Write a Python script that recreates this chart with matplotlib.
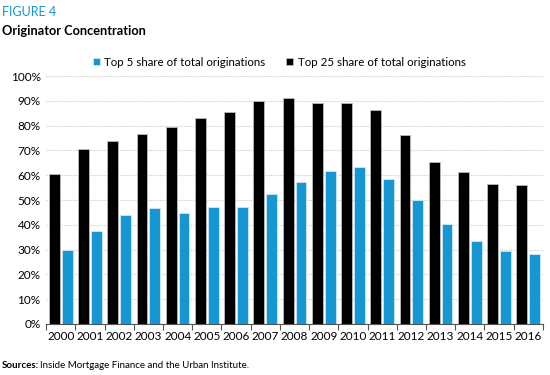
import numpy as np
import matplotlib.pyplot as plt
from matplotlib.ticker import FixedLocator

years = [str(y) for y in range(2000, 2017)]
top5 = [29.8, 37.7, 43.8, 46.8, 44.6, 47.0, 47.2, 52.4, 57.4, 61.6, 63.5, 58.5, 50.0, 40.4, 33.4, 29.4, 28.4]
top25 = [60.6, 70.8, 73.9, 76.8, 79.4, 83.2, 85.6, 89.9, 91.0, 89.0, 89.0, 86.4, 76.3, 65.2, 61.5, 56.6, 56.1]

BLUE = "#1696d2"
plt.rcParams['font.family'] = ['Lato', 'DejaVu Sans']

fig = plt.figure(figsize=(5.5, 3.75), dpi=100)
ax = fig.add_axes([0.084, 0.136, 0.903, 0.661])

x = np.arange(len(years))
w = 0.37
ax.bar(x - 0.22, top25, w, color="black", edgecolor="#bbbbbb", linewidth=0.6,
       label="Top 25 share of total originations", zorder=3)
ax.bar(x + 0.22, top5, w, color=BLUE, edgecolor="#cfe8f5", linewidth=0.6,
       label="Top 5 share of total originations", zorder=3)

ax.set_xlim(-0.5, len(years) - 0.5)
ax.set_ylim(0, 100)
ax.set_yticks(np.arange(0, 101, 10))
ax.set_yticklabels([f"{v}%" for v in range(0, 101, 10)], fontsize=8.5)
ax.tick_params(axis="y", length=0, pad=4)
ax.set_xticks(x)
ax.set_xticklabels(years, fontsize=8.5)
ax.tick_params(axis="x", which="major", length=0, pad=5)
ax.xaxis.set_minor_locator(FixedLocator(np.arange(-0.5, len(years), 1)))
ax.tick_params(axis="x", which="minor", length=4, width=0.8, color="#555555")

ax.grid(axis="y", linestyle=(0, (1, 1)), color="#cccccc", linewidth=0.8, zorder=0)
for s in ["top", "right", "left"]:
    ax.spines[s].set_visible(False)
ax.spines["bottom"].set_color("#555555")
ax.spines["bottom"].set_linewidth(0.8)
ax.spines["bottom"].set_zorder(4)

h, l = ax.get_legend_handles_labels()
fig.legend(h[::-1], l[::-1], loc="center", bbox_to_anchor=(0.508, 0.834), ncol=2,
           frameon=False, fontsize=8.3, handlelength=0.6, handleheight=0.6,
           handletextpad=0.4, columnspacing=1.8)

fig.text(0.004, 0.968, "FIGURE 4", color=BLUE, fontsize=9, va="center")
fig.text(0.004, 0.918, "Originator Concentration", fontsize=9.2, fontweight="bold", va="center")
fig.text(0.004, 0.024, "Sources:", fontsize=7, fontweight="bold", va="center")
fig.text(0.073, 0.024, "Inside Mortgage Finance and the Urban Institute.", fontsize=7, va="center")

fig.savefig("out.png", dpi=100)
